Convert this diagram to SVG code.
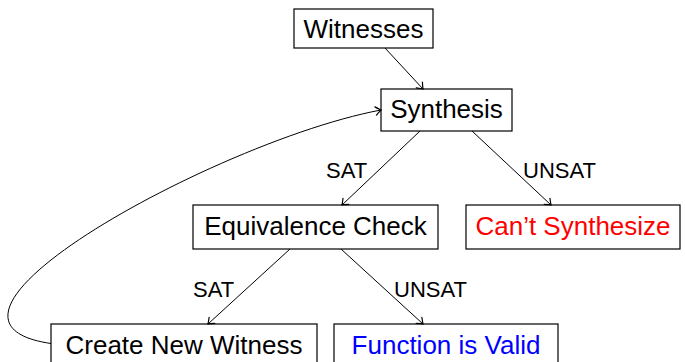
<svg xmlns="http://www.w3.org/2000/svg" width="685" height="362" viewBox="0 0 685 362">
  <style>
    .box { fill: #ffffff; stroke: #000000; stroke-width: 1.2; }
    .label { font-family: "Liberation Sans", Arial, sans-serif; font-size: 26px; text-anchor: middle; fill: #000000; }
    .edge-label { font-family: "Liberation Sans", Arial, sans-serif; font-size: 22px; fill: #000000; }
    .edge { fill: none; stroke: #000000; stroke-width: 1; marker-end: url(#to); }
  </style>
  <defs>
    <marker id="to" markerUnits="userSpaceOnUse" markerWidth="12" markerHeight="12" viewBox="-6 -5 8 10" refX="0" refY="0" orient="auto">
      <path d="M -4.5 -3.5 Q -1.2 -0.8 0 0 Q -1.2 0.8 -4.5 3.5" fill="none" stroke="#000000" stroke-width="1" stroke-linecap="round"/>
    </marker>
  </defs>

  <!-- nodes -->
  <g id="witnesses">
    <rect class="box" x="294" y="9" width="139" height="39"/>
    <text class="label" x="363.5" y="38.3">Witnesses</text>
  </g>
  <g id="synthesis">
    <rect class="box" x="381" y="89" width="131" height="42"/>
    <text class="label" x="446.5" y="118">Synthesis</text>
  </g>
  <g id="equivalence-check">
    <rect class="box" x="193" y="205" width="245" height="44"/>
    <text class="label" x="315.5" y="234.5">Equivalence Check</text>
  </g>
  <g id="cant-synthesize">
    <rect class="box" x="466" y="205" width="214" height="44"/>
    <text class="label" x="573" y="234.5" fill="#ff0000" style="fill:#ff0000">Can’t Synthesize</text>
  </g>
  <g id="create-new-witness">
    <rect class="box" x="51" y="324" width="266" height="39"/>
    <text class="label" x="184" y="353.5">Create New Witness</text>
  </g>
  <g id="function-is-valid">
    <rect class="box" x="334" y="324" width="224" height="39"/>
    <text class="label" x="446" y="353.5" style="fill:#0000ff">Function is Valid</text>
  </g>

  <!-- connectors -->
  <g id="connectors">
    <line class="edge" x1="385" y1="48" x2="423" y2="89"/>
    <line class="edge" x1="420" y1="131" x2="342" y2="205"/>
    <line class="edge" x1="472" y1="131" x2="551" y2="205"/>
    <line class="edge" x1="290" y1="249" x2="208" y2="324"/>
    <line class="edge" x1="341" y1="249" x2="423" y2="324"/>
    <path class="edge" d="M 51 343.5 C -110 320 220 140 381 110"/>
    <text class="edge-label" x="326" y="177.7">SAT</text>
    <text class="edge-label" x="523" y="178">UNSAT</text>
    <text class="edge-label" x="193" y="297">SAT</text>
    <text class="edge-label" x="394" y="297">UNSAT</text>
  </g>
</svg>
